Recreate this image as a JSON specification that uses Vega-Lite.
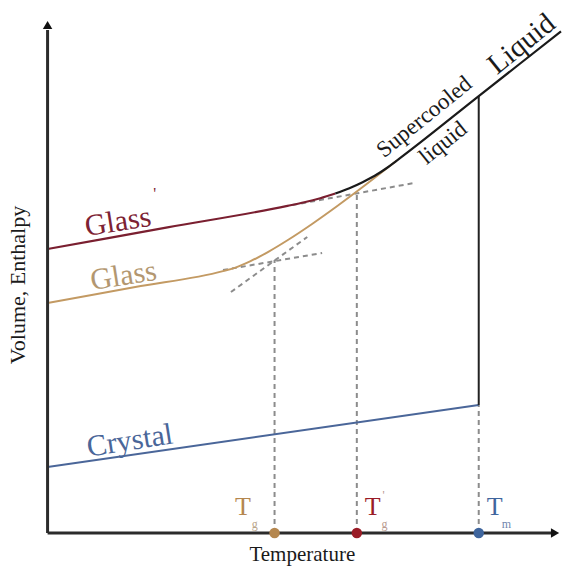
{
  "$schema": "https://vega.github.io/schema/vega-lite/v6.json",
  "width": 566,
  "height": 572,
  "autosize": {"type": "fit", "contains": "padding"},
  "padding": 0,
  "background": "white",
  "config": {"view": {"stroke": null}, "font": "Liberation Serif"},
  "datasets": {
    "glassRed": [
      {"t": 0, "v": 56.8}, {"t": 24.2, "v": 61.11}, {"t": 48.4, "v": 65.42},
      {"t": 51.8, "v": 66.14}, {"t": 55.02, "v": 66.96}, {"t": 58.06, "v": 67.9}
    ],
    "liquid": [
      {"t": 58.06, "v": 67.9}, {"t": 60.9, "v": 68.96}, {"t": 63.56, "v": 70.16},
      {"t": 66.02, "v": 71.44}, {"t": 68.3, "v": 72.9}, {"t": 70.4, "v": 74.44},
      {"t": 87, "v": 87.38}, {"t": 103.6, "v": 100.32}
    ],
    "glassGold": [
      {"t": 0, "v": 46.0}, {"t": 17.7, "v": 49.19}, {"t": 35.4, "v": 52.38},
      {"t": 37.92, "v": 53.08}, {"t": 40.96, "v": 54.36}, {"t": 44.54, "v": 56.24},
      {"t": 48.65, "v": 58.7}, {"t": 53.3, "v": 61.76}, {"t": 58.46, "v": 65.4},
      {"t": 64.18, "v": 69.64}, {"t": 70.4, "v": 74.44}
    ],
    "dashed": [
      {"t": 37, "v": 48.2, "t2": 52.4, "v2": 59.2},
      {"t": 35.4, "v": 52.6, "t2": 55.4, "v2": 56.0},
      {"t": 49.4, "v": 65.6, "t2": 74, "v2": 70.0},
      {"t": 45.8, "v": 0, "t2": 45.8, "v2": 54.6},
      {"t": 62.4, "v": 0, "t2": 62.4, "v2": 68.2},
      {"t": 87, "v": 0, "t2": 87, "v2": 25.6}
    ],
    "crystal": [{"t": 0, "v": 13.2, "t2": 87, "v2": 25.6}],
    "melt": [{"t": 87, "v": 25.6, "t2": 87, "v2": 87.38}],
    "axes": [
      {"t": 0, "v": 0, "t2": 0, "v2": 100.6},
      {"t": 0, "v": 0, "t2": 101.6, "v2": 0}
    ],
    "arrowUp": [{"t": 0, "v": 101.6}],
    "arrowRight": [{"t": 102.4, "v": 0}],
    "dots": [
      {"t": 45.8, "v": 0, "temp": "Tg"},
      {"t": 62.4, "v": 0, "temp": "Tg'"},
      {"t": 87, "v": 0, "temp": "Tm"}
    ]
  },
  "encoding": {
    "x": {"field": "t", "type": "quantitative", "scale": {"domain": [-9.6, 103.6], "nice": false, "zero": false}, "axis": null},
    "y": {"field": "v", "type": "quantitative", "scale": {"domain": [-7.8, 106.6], "nice": false, "zero": false}, "axis": null}
  },
  "layer": [
    {
      "data": {"name": "dashed"},
      "mark": {"type": "rule", "color": "#8c8c8c", "strokeWidth": 2, "strokeDash": [5, 4]},
      "encoding": {"x2": {"field": "t2"}, "y2": {"field": "v2"}}
    },
    {
      "data": {"name": "crystal"},
      "mark": {"type": "rule", "color": "#4a6699", "strokeWidth": 2},
      "encoding": {"x2": {"field": "t2"}, "y2": {"field": "v2"}}
    },
    {
      "data": {"name": "melt"},
      "mark": {"type": "rule", "color": "#222222", "strokeWidth": 2},
      "encoding": {"x2": {"field": "t2"}, "y2": {"field": "v2"}}
    },
    {
      "data": {"name": "glassGold"},
      "mark": {"type": "line", "color": "#c39a63", "strokeWidth": 2, "interpolate": "monotone"}
    },
    {
      "data": {"name": "glassRed"},
      "mark": {"type": "line", "color": "#7a1f30", "strokeWidth": 2.2, "interpolate": "monotone"}
    },
    {
      "data": {"name": "liquid"},
      "mark": {"type": "line", "color": "#1a1a1a", "strokeWidth": 2.2, "interpolate": "monotone"}
    },
    {
      "data": {"name": "axes"},
      "mark": {"type": "rule", "color": "#2b2b2b", "strokeWidth": 3},
      "encoding": {"x2": {"field": "t2"}, "y2": {"field": "v2"}}
    },
    {
      "data": {"name": "arrowUp"},
      "mark": {"type": "point", "shape": "triangle-up", "filled": true, "color": "#111111", "size": 90, "opacity": 1}
    },
    {
      "data": {"name": "arrowRight"},
      "mark": {"type": "point", "shape": "triangle-right", "filled": true, "color": "#111111", "size": 90, "opacity": 1}
    },
    {
      "data": {"name": "dots"},
      "mark": {"type": "point", "shape": "circle", "filled": true, "size": 110, "opacity": 1},
      "encoding": {
        "color": {"field": "temp", "type": "nominal", "legend": null,
          "scale": {"domain": ["Tg", "Tg'", "Tm"], "range": ["#b5874f", "#9a1c27", "#3f659d"]}}
      }
    },
    {
      "data": {"values": [{"t": 14.2, "v": 62.2, "label": "Glass"}]},
      "mark": {"type": "text", "color": "#7d2233", "fontSize": 30, "angle": -9, "align": "center", "baseline": "middle"},
      "encoding": {"text": {"field": "label"}}
    },
    {
      "data": {"values": [{"t": 21.6, "v": 67.8, "label": "'"}]},
      "mark": {"type": "text", "color": "#7d2233", "fontSize": 16, "align": "center", "baseline": "middle"},
      "encoding": {"text": {"field": "label"}}
    },
    {
      "data": {"values": [{"t": 15.3, "v": 51.4, "label": "Glass"}]},
      "mark": {"type": "text", "color": "#b39770", "fontSize": 30, "angle": -9, "align": "center", "baseline": "middle"},
      "encoding": {"text": {"field": "label"}}
    },
    {
      "data": {"values": [{"t": 16.6, "v": 18.4, "label": "Crystal"}]},
      "mark": {"type": "text", "color": "#4a6699", "fontSize": 30, "angle": -9, "align": "center", "baseline": "middle"},
      "encoding": {"text": {"field": "label"}}
    },
    {
      "data": {"values": [{"t": 76.0, "v": 83.2, "label": "Supercooled"}, {"t": 79.8, "v": 78.0, "label": "liquid"}]},
      "mark": {"type": "text", "color": "#1a1a1a", "fontSize": 23, "angle": -39, "align": "center", "baseline": "middle"},
      "encoding": {"text": {"field": "label"}}
    },
    {
      "data": {"values": [{"t": 95.6, "v": 97.8, "label": "Liquid"}]},
      "mark": {"type": "text", "color": "#1a1a1a", "fontSize": 29, "angle": -39, "align": "center", "baseline": "middle"},
      "encoding": {"text": {"field": "label"}}
    },
    {
      "data": {"values": [{"t": -6.0, "v": 49.6, "label": "Volume, Enthalpy"}]},
      "mark": {"type": "text", "color": "#1a1a1a", "fontSize": 22, "angle": -90, "align": "center", "baseline": "middle"},
      "encoding": {"text": {"field": "label"}}
    },
    {
      "data": {"values": [{"t": 51.4, "v": -5.6, "label": "Temperature"}]},
      "mark": {"type": "text", "color": "#1a1a1a", "fontSize": 21, "align": "center", "baseline": "alphabetic"},
      "encoding": {"text": {"field": "label"}}
    },
    {
      "data": {"values": [{"t": 39.4, "v": 3.6, "label": "T"}]},
      "mark": {"type": "text", "color": "#b5874f", "fontSize": 26, "align": "center", "baseline": "alphabetic"},
      "encoding": {"text": {"field": "label"}}
    },
    {
      "data": {"values": [{"t": 41.8, "v": 1.0, "label": "g"}]},
      "mark": {"type": "text", "color": "#b9a58a", "fontSize": 12, "align": "center", "baseline": "alphabetic"},
      "encoding": {"text": {"field": "label"}}
    },
    {
      "data": {"values": [{"t": 65.6, "v": 3.6, "label": "T"}]},
      "mark": {"type": "text", "color": "#9a1c27", "fontSize": 26, "align": "center", "baseline": "alphabetic"},
      "encoding": {"text": {"field": "label"}}
    },
    {
      "data": {"values": [{"t": 68.0, "v": 1.0, "label": "g"}, {"t": 67.8, "v": 6.8, "label": "'"}]},
      "mark": {"type": "text", "color": "#b99a8f", "fontSize": 12, "align": "center", "baseline": "alphabetic"},
      "encoding": {"text": {"field": "label"}}
    },
    {
      "data": {"values": [{"t": 90.2, "v": 3.6, "label": "T"}]},
      "mark": {"type": "text", "color": "#3f659d", "fontSize": 26, "align": "center", "baseline": "alphabetic"},
      "encoding": {"text": {"field": "label"}}
    },
    {
      "data": {"values": [{"t": 92.6, "v": 1.0, "label": "m"}]},
      "mark": {"type": "text", "color": "#6f86ad", "fontSize": 12, "align": "center", "baseline": "alphabetic"},
      "encoding": {"text": {"field": "label"}}
    }
  ]
}
